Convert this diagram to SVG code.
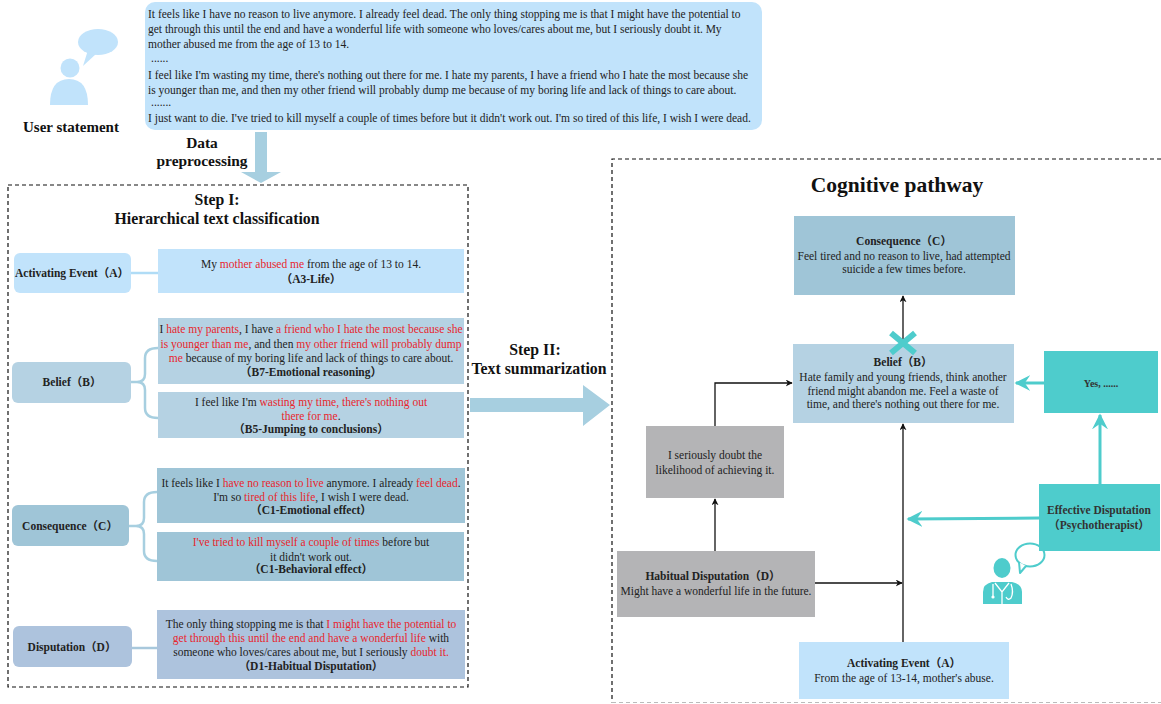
<svg xmlns="http://www.w3.org/2000/svg" width="1161" height="704" viewBox="0 0 1161 704">
<style>
text{font-family:"Liberation Serif","Noto Sans CJK SC",serif;fill:#222;}
.t{font-size:11.5px;}
.tc{font-size:11.5px;text-anchor:middle;}
.b{font-weight:bold;}
.r{fill:#e8262d;}
.h{font-size:15.8px;font-weight:bold;text-anchor:middle;fill:#111;}
.lbl{font-size:11.5px;font-weight:bold;text-anchor:middle;}
.dash{fill:none;stroke:#111;stroke-width:1.2;stroke-dasharray:4 3;}
.blk{fill:none;stroke:#111;stroke-width:1.3;}
.teal{fill:none;stroke:#4ecccc;stroke-width:3;}
.brk{fill:none;stroke:#a7cfe0;stroke-width:2.5;}
</style>
<defs>
<marker id="ab" viewBox="0 0 10 10" refX="9" refY="5" markerWidth="7" markerHeight="7" markerUnits="userSpaceOnUse" orient="auto">
<path d="M0,0 L10,5 L0,10 L3,5 z" fill="#111"/>
</marker>
<marker id="at" viewBox="0 0 10 10" refX="9" refY="5" markerWidth="16" markerHeight="16" markerUnits="userSpaceOnUse" orient="auto">
<path d="M0,0 L10,5 L0,10 L3.5,5 z" fill="#4ecccc"/>
</marker>
</defs>

<!-- User icon -->
<g id="user-icon">
<ellipse cx="98" cy="42" rx="20" ry="13" fill="#c1e3fb"/>
<path d="M88,50 L83,66 L96,54 z" fill="#c1e3fb"/>
<circle cx="70" cy="68" r="9.5" fill="#c1e3fb"/>
<path d="M50,105 Q50,79 69,79 Q88,79 88,105 z" fill="#c1e3fb"/>
<text x="71" y="132" class="h" style="font-size:15px">User statement</text>
</g>

<!-- Statement -->
<g id="statement">
<rect x="145" y="2" width="617" height="128" rx="10" fill="#c1e3fb"/>
<text class="t" x="148" y="18">It feels like I have no reason to live anymore. I already feel dead. The only thing stopping me is that I might have the potential to</text>
<text class="t" x="148" y="33">get through this until the end and have a wonderful life with someone who loves/cares about me, but I seriously doubt it. My</text>
<text class="t" x="148" y="48">mother abused me from the age of 13 to 14.</text>
<text class="t" x="151" y="62">......</text>
<text class="t" x="148" y="79">I feel like I'm wasting my time, there's nothing out there for me. I hate my parents, I have a friend who I hate the most because she</text>
<text class="t" x="148" y="94">is younger than me, and then my other friend will probably dump me because of my boring life and lack of things to care about.</text>
<text class="t" x="151" y="106">.......</text>
<text class="t" x="148" y="122">I just want to die. I've tried to kill myself a couple of times before but it didn't work out. I'm so tired of this life, I wish I were dead.</text>
</g>

<!-- Big arrows -->
<g id="big-arrows">
<path d="M255,132 L267,132 L267,172 L281,172 L261,183 L241,172 L255,172 z" fill="#a7cfe0"/>
<text x="202" y="148" class="h" style="font-size:15.4px">Data</text>
<text x="202" y="166" class="h" style="font-size:15.4px">preprocessing</text>
<path d="M470,398 L583,398 L583,385 L610,405 L583,426 L583,412 L470,412 z" fill="#a7cfe0"/>
<text x="535" y="355" class="h">Step II:</text>
<text x="539" y="374" class="h">Text summarization</text>
</g>

<!-- Step I panel -->
<g id="step1">
<rect x="8" y="185" width="460" height="502" class="dash"/>
<text x="217" y="205" class="h">Step I:</text>
<text x="217" y="224" class="h">Hierarchical text classification</text>
</g>

<g id="label-A">
<rect x="14" y="253" width="117" height="40" rx="6" fill="#c1e3fb"/>
<text x="72" y="277" class="lbl">Activating Event（A）</text>
</g>
<g id="content-A">
<rect x="158" y="249" width="306" height="44" fill="#c1e3fb"/>
<text class="tc" x="311" y="268">My <tspan class="r">mother abused me</tspan> from the age of 13 to 14.</text>
<text class="tc b" x="311" y="283">（A3-Life）</text>
</g>

<g id="label-B">
<rect x="12" y="362" width="119" height="41" rx="6" fill="#b5d2e3"/>
<text x="72" y="386" class="lbl">Belief（B）</text>
</g>
<g id="content-B7">
<rect x="158" y="318" width="306" height="66" fill="#b5d2e3"/>
<text class="tc" x="311" y="333">I <tspan class="r">hate my parents</tspan>, I have <tspan class="r">a friend who I hate the most because she</tspan></text>
<text class="tc" x="311" y="348"><tspan class="r">is younger than me</tspan>, and then <tspan class="r">my other friend will probably dump</tspan></text>
<text class="tc" x="311" y="362"><tspan class="r">me</tspan> because of my boring life and lack of things to care about.</text>
<text class="tc b" x="311" y="376">（B7-Emotional reasoning）</text>
</g>
<g id="content-B5">
<rect x="158" y="392" width="306" height="46" fill="#b5d2e3"/>
<text class="tc" x="311" y="406">I feel like I'm <tspan class="r">wasting my time, there's nothing out</tspan></text>
<text class="tc" x="311" y="420"><tspan class="r">there for me</tspan>.</text>
<text class="tc b" x="311" y="433">（B5-Jumping to conclusions）</text>
</g>

<g id="label-C">
<rect x="12" y="505" width="117" height="41" rx="6" fill="#9fc5d7"/>
<text x="70" y="530" class="lbl">Consequence（C）</text>
</g>
<g id="content-C1e">
<rect x="157" y="468" width="308" height="55" fill="#9fc5d7"/>
<text class="tc" x="311" y="487">It feels like I <tspan class="r">have no reason to live</tspan> anymore. I already <tspan class="r">feel dead</tspan>.</text>
<text class="tc" x="311" y="501">I'm so <tspan class="r">tired of this life</tspan>, I wish I were dead.</text>
<text class="tc b" x="311" y="514">（C1-Emotional effect）</text>
</g>
<g id="content-C1b">
<rect x="157" y="532" width="307" height="49" fill="#9fc5d7"/>
<text class="tc" x="311" y="546"><tspan class="r">I've tried to kill myself a couple of times</tspan> before but</text>
<text class="tc" x="311" y="561">it didn't work out.</text>
<text class="tc b" x="311" y="573">（C1-Behavioral effect）</text>
</g>

<g id="label-D">
<rect x="13" y="626" width="119" height="41" rx="6" fill="#adc3dd"/>
<text x="72" y="651" class="lbl">Disputation（D）</text>
</g>
<g id="content-D1">
<rect x="157" y="610" width="308" height="69" fill="#adc3dd"/>
<text class="tc" x="311" y="628">The only thing stopping me is that <tspan class="r">I might have the potential to</tspan></text>
<text class="tc" x="311" y="642"><tspan class="r">get through this until the end and have a wonderful life</tspan> with</text>
<text class="tc" x="311" y="656">someone who loves/cares about me, but I seriously <tspan class="r">doubt it.</tspan></text>
<text class="tc b" x="311" y="670">（D1-Habitual Disputation）</text>
</g>

<!-- Left connectors -->
<g id="left-connectors">
<line x1="131" y1="273" x2="158" y2="273" stroke="#b0dcf6" stroke-width="2.5"/>
<path class="brk" d="M131,382 L137,382 Q145,382 145,374 L145,358 Q145,348 158,348 M137,382 Q145,382 145,390 L145,408 Q145,418 158,418"/>
<path class="brk" d="M129,526 L136,526 Q144,526 144,518 L144,502 Q144,492 157,492 M136,526 Q144,526 144,534 L144,551 Q144,561 157,561"/>
<line x1="132" y1="648" x2="157" y2="648" stroke="#a8c8dc" stroke-width="2.5"/>
</g>

<!-- Right panel -->
<g id="cognitive-panel">
<path d="M1161,159 L612,159 L612,702.5" class="dash"/>
<line x1="612" y1="702.5" x2="1161" y2="702.5" stroke="#bbb" stroke-width="1.2" stroke-dasharray="4 3"/>
<text x="897" y="192" class="h" style="font-size:21.5px">Cognitive pathway</text>
</g>

<g id="node-C">
<rect x="794" y="216" width="221" height="79" fill="#9fc5d7"/>
<text class="tc b" x="904" y="245">Consequence（C）</text>
<text class="tc" x="904" y="260">Feel tired and no reason to live, had attempted</text>
<text class="tc" x="904" y="273">suicide a few times before.</text>
</g>
<g id="node-B">
<rect x="793" y="344" width="221" height="79" fill="#b5d2e3"/>
<text class="tc b" x="903" y="366">Belief（B）</text>
<text class="tc" x="903" y="381">Hate family and young friends, think another</text>
<text class="tc" x="903" y="395">friend might abandon me. Feel a waste of</text>
<text class="tc" x="903" y="408">time, and there's nothing out there for me.</text>
</g>
<g id="node-yes">
<rect x="1044" y="351" width="114" height="62" fill="#4ecccc"/>
<text class="tc b" x="1101" y="387" style="font-size:10px;fill:#333">Yes, ......</text>
</g>
<g id="doctor-icon">
<ellipse cx="1030" cy="555" rx="14.5" ry="11.5" fill="#fff" stroke="#4ecccc" stroke-width="2"/>
<path d="M1019,562 L1020,573 L1026,566" fill="#fff" stroke="#4ecccc" stroke-width="2" stroke-linejoin="round"/>
<ellipse cx="1002" cy="568" rx="8.5" ry="10" fill="#4ecccc"/>
<path d="M983,604 L983,592 Q983,584 992,582 L1012,582 Q1022,584 1022,592 L1022,604 z" fill="#4ecccc"/>
<path d="M995,583 L1002,592 L1009,583 M1002,592 L1002,604 M993,584 L993,596 M1011,584 Q1014,592 1011,598 Q1008,601 1006,597" fill="none" stroke="#fff" stroke-width="1.3"/>
<circle cx="993" cy="597" r="1.6" fill="#fff"/>
</g>
<g id="node-ED">
<rect x="1039" y="484" width="121" height="67" fill="#4ecccc"/>
<text class="tc b" x="1099" y="514" style="fill:#333">Effective Disputation</text>
<text class="tc b" x="1099" y="529" style="fill:#333">（Psychotherapist）</text>
</g>
<g id="node-doubt">
<rect x="646" y="426" width="138" height="72" fill="#b4b4b6"/>
<text class="tc" x="715" y="459">I seriously doubt the</text>
<text class="tc" x="715" y="474">likelihood of achieving it.</text>
</g>
<g id="node-D">
<rect x="617" y="551" width="198" height="66" fill="#b4b4b6"/>
<text class="tc b" x="713" y="580">Habitual Disputation（D）</text>
<text class="tc" x="716" y="595">Might have a wonderful life in the future.</text>
</g>
<g id="node-A">
<rect x="799" y="642" width="210" height="57" fill="#c1e3fb"/>
<text class="tc b" x="904" y="667">Activating Event（A）</text>
<text class="tc" x="904" y="682">From the age of 13-14, mother's abuse.</text>
</g>

<!-- Connectors -->
<g id="connectors">
<line x1="903" y1="642" x2="903" y2="424" class="blk" marker-end="url(#ab)"/>
<line x1="903" y1="343" x2="903" y2="296" class="blk" marker-end="url(#ab)"/>
<line x1="815" y1="583" x2="902" y2="583" class="blk" marker-end="url(#ab)"/>
<line x1="715" y1="551" x2="715" y2="499" class="blk" marker-end="url(#ab)"/>
<path d="M715,426 L715,383 L792,383" class="blk" marker-end="url(#ab)"/>
<line x1="1044" y1="383" x2="1016" y2="383" class="teal" marker-end="url(#at)"/>
<line x1="1100" y1="484" x2="1100" y2="415" class="teal" marker-end="url(#at)"/>
<line x1="1039" y1="518" x2="908" y2="519" class="teal" marker-end="url(#at)"/>
<path d="M891,333 L915,353 M915,333 L891,353" stroke="#4ecccc" stroke-width="6" fill="none"/>
</g>
</svg>
